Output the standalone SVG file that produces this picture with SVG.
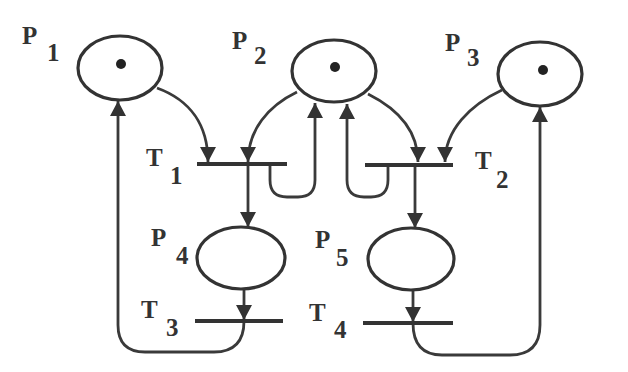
<svg xmlns="http://www.w3.org/2000/svg" width="628" height="372" viewBox="0 0 628 372">
<style>
.pl{fill:#fff;stroke:#333;stroke-width:3.2}
.tok{fill:#222}
.tr{stroke:#333;stroke-width:4;fill:none}
.arc{stroke:#3a3a3a;stroke-width:2.8;fill:none;marker-end:url(#ah)}
.lb{font-family:"Liberation Serif","Times New Roman",serif;font-size:25px;font-weight:bold;fill:#333}
</style>
<defs>
<marker id="ah" markerUnits="userSpaceOnUse" markerWidth="16" markerHeight="17" refX="15" refY="8" orient="auto">
<path d="M0,0 L15,8 L0,16 z" fill="#333"/>
</marker>
</defs>
<rect width="628" height="372" fill="#fff"/>
<g id="connectors">
<path class="arc" d="M157,88 C190,100 208,125 208,162"/>
<path class="arc" d="M297,92 C268,106 248,130 248,162"/>
<path class="arc" d="M368,94 C396,108 418,130 418,162"/>
<path class="arc" d="M502,90 C470,105 445,130 445,162"/>
<path class="arc" d="M248,164 V227"/>
<path class="arc" d="M415,165 V228"/>
<path class="arc" d="M270,164 V180 Q270,197 287,197 H298 Q315,197 315,180 V103"/>
<path class="arc" d="M388,165 V180 Q388,197 371,197 H364 Q347,197 347,180 V104"/>
<path class="arc" d="M244,290 V320"/>
<path class="arc" d="M413,290 V322"/>
<path class="arc" d="M244,321 Q244,352 214,352 H145 Q118,352 118,325 V101"/>
<path class="arc" d="M413,323 Q413,355 442,355 H510 Q540,355 540,325 V107"/>
</g>
<g id="P1"><ellipse class="pl" cx="120" cy="68" rx="42" ry="32"/><circle class="tok" cx="121" cy="64" r="5"/><text class="lb" x="22" y="44">P<tspan x="47" y="61">1</tspan></text></g>
<g id="P2"><ellipse class="pl" cx="334" cy="71" rx="42" ry="31"/><circle class="tok" cx="335" cy="67" r="5"/><text class="lb" x="232" y="49">P<tspan x="254" y="64">2</tspan></text></g>
<g id="P3"><ellipse class="pl" cx="540" cy="74" rx="42" ry="32"/><circle class="tok" cx="543" cy="70" r="5"/><text class="lb" x="445" y="51">P<tspan x="467" y="66">3</tspan></text></g>
<g id="P4"><ellipse class="pl" cx="241" cy="258" rx="44" ry="31"/><text class="lb" x="151" y="246">P<tspan x="176" y="264">4</tspan></text></g>
<g id="P5"><ellipse class="pl" cx="411" cy="259" rx="43" ry="31"/><text class="lb" x="315" y="248">P<tspan x="336" y="266">5</tspan></text></g>
<g id="T1"><line class="tr" x1="197" y1="164" x2="287" y2="164"/><text class="lb" x="146" y="166">T<tspan x="170" y="184">1</tspan></text></g>
<g id="T2"><line class="tr" x1="365" y1="165" x2="453" y2="165"/><text class="lb" x="475" y="169">T<tspan x="496" y="188">2</tspan></text></g>
<g id="T3"><line class="tr" x1="195" y1="321" x2="283" y2="321"/><text class="lb" x="141" y="318">T<tspan x="166" y="336">3</tspan></text></g>
<g id="T4"><line class="tr" x1="363" y1="323" x2="453" y2="323"/><text class="lb" x="309" y="321">T<tspan x="334" y="338">4</tspan></text></g>
</svg>
